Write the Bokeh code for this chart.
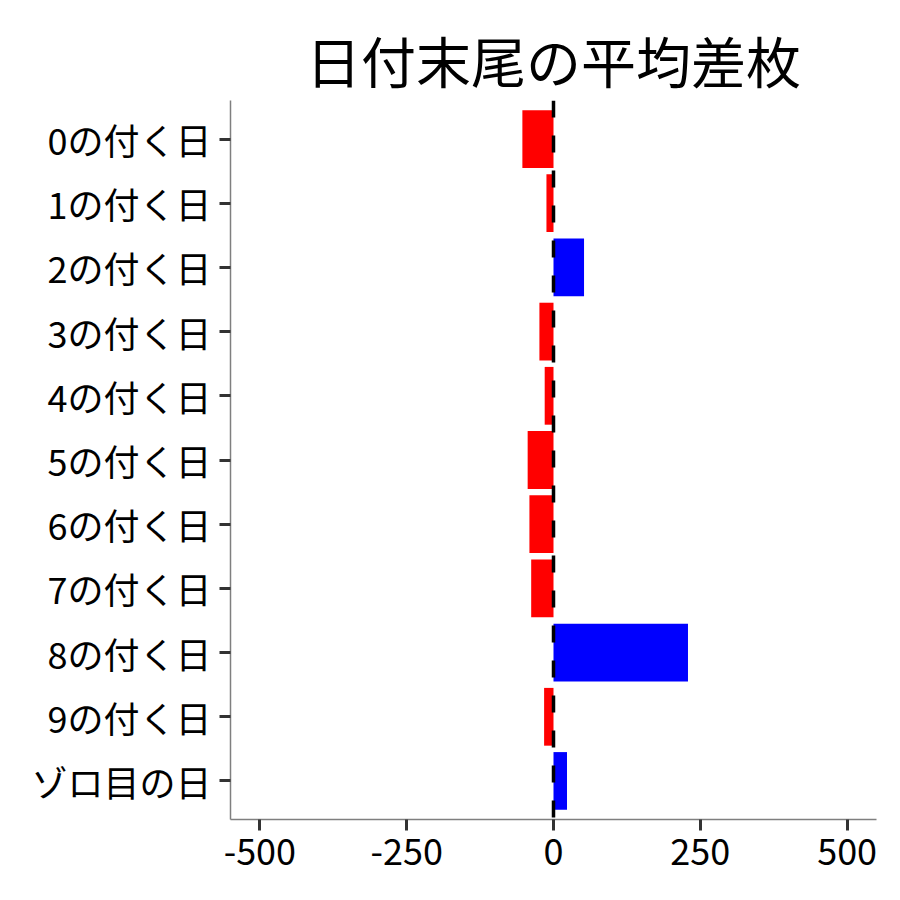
from bokeh.plotting import figure
from bokeh.models import FactorRange, Span, Range1d, FixedTicker, ColumnDataSource
from bokeh.embed import file_html
from bokeh.resources import INLINE

title_text = "日付末尾の平均差枚"
categories = ["0の付く日", "1の付く日", "2の付く日", "3の付く日", "4の付く日",
              "5の付く日", "6の付く日", "7の付く日", "8の付く日", "9の付く日", "ゾロ目の日"]
values = [-53, -12, 52, -24, -15, -44, -41, -38, 229, -16, 23]
x_ticks = [-500, -250, 0, 250, 500]
x_tick_labels = ["-500", "-250", "0", "250", "500"]

colors = ["#0000FF" if v > 0 else "#FF0000" for v in values]
src = ColumnDataSource(dict(cat=categories, val=values, color=colors))

FONT = "Noto Sans CJK JP"

yr = FactorRange(factors=list(reversed(categories)), range_padding=0.1,
                 range_padding_units="absolute")
p = figure(width=890, height=890, y_range=yr, x_range=Range1d(-550, 550),
           output_backend="svg", toolbar_location=None,
           min_border_left=230, min_border_right=14,
           min_border_top=100, min_border_bottom=71)

p.hbar(y="cat", left=0, right="val", height=0.9, fill_color="color",
       line_color=None, source=src)

p.add_layout(Span(location=0, dimension="height", line_color="black",
                  line_width=3.5, line_dash="17 18"))

p.title.text = title_text
p.title.align = "center"
p.title.vertical_align = "top"
p.title.text_font = FONT
p.title.text_font_size = "55px"
p.title.text_font_style = "normal"
p.title.text_color = "black"
p.title.standoff = 0

p.xgrid.visible = False
p.ygrid.visible = False
p.outline_line_color = None
p.background_fill_color = "white"
p.border_fill_color = "white"

p.xaxis.ticker = FixedTicker(ticks=x_ticks)
p.xaxis.major_label_overrides = {t: l for t, l in zip(x_ticks, x_tick_labels)}

for ax in (p.xaxis[0], p.yaxis[0]):
    ax.axis_line_color = "#7f7f7f"
    ax.axis_line_width = 1.5
    ax.major_tick_line_color = "#333333"
    ax.major_tick_line_width = 3
    ax.major_tick_out = 11
    ax.major_tick_in = 0
    ax.minor_tick_line_color = None
    ax.major_label_text_font = FONT
    ax.major_label_text_font_size = "36px"
    ax.major_label_text_color = "black"
    ax.major_label_standoff = 8

open("out.html", "w").write(file_html(p, INLINE))
